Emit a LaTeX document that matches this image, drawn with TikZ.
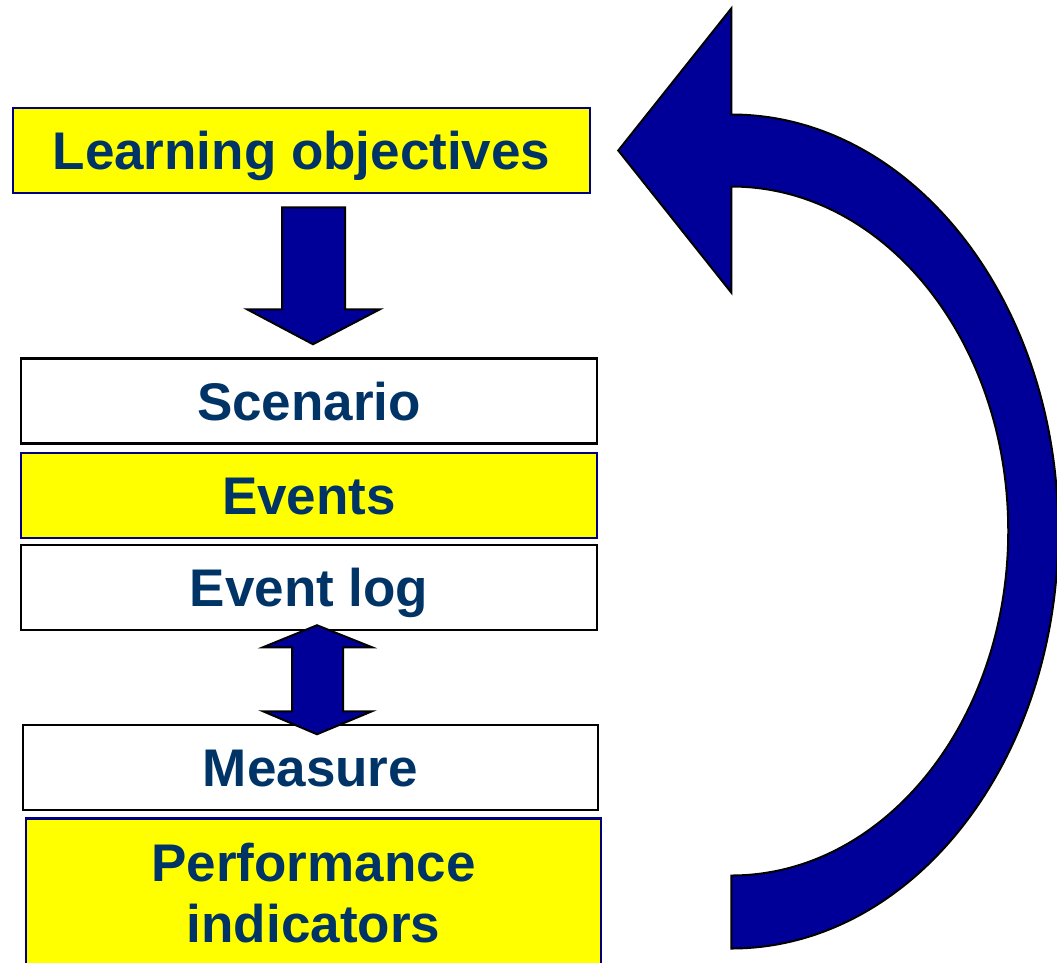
\documentclass[tikz,border=0pt]{standalone}
\usepackage{fontspec}
\setmainfont{Liberation Sans}
\usepackage{tikz}
\usetikzlibrary{calc}
\definecolor{tblue}{RGB}{0,51,102}
\definecolor{ablue}{RGB}{0,0,153}
\definecolor{nblue}{RGB}{0,0,128}
\definecolor{byellow}{RGB}{255,255,0}

\begin{document}
\begin{tikzpicture}[x=1pt,y=-1pt,
        font=\bfseries\fontsize{53}{61}\selectfont,
        box/.style={draw,line width=2.5pt,minimum width=576pt,minimum height=85pt,inner sep=0pt,text=tblue},
        wbox/.style={box,draw=black,fill=white},
        ybox/.style={box,draw=nblue,fill=byellow},
        oneline/.style={text height=38pt,text depth=0pt},
        blk/.style={draw=black,fill=ablue,line width=2pt,line join=miter}]
        \path[use as bounding box,clip] (0,0) rectangle (1057,962);
        % boxes
        \node[ybox,oneline,minimum width=577pt](lo) at (301.5,150.5){Learning objectives};
        \foreach \n/\s/\y/\t in {scen/wbox/401/Scenario,evt/ybox/495.5/Events,elog/wbox/587.5/Event log}
          {\node[\s,oneline](\n) at (309,\y){\t};}
        \node[wbox,oneline,minimum width=575pt](meas) at (310.5,767.5){Measure};
        \node[ybox,anchor=north,minimum width=575pt,minimum height=150pt,align=center](perf)
              at (313.5,817){Performance\\indicators};
        % block arrows
        \draw[blk] ($(scen.north)+(4,-13)$) -- ++(-66,-35) -- ++(35,0) -- ++(0,-102)
              -- ++(63,0) -- ++(0,102) -- ++(35,0) -- cycle;
        \draw[blk] ($(elog.south)+(8,-6)$) -- ++(-54,22) -- ++(29,0) -- ++(0,64) -- ++(-29,0)
              -- ++(54,23) -- ++(55,-23) -- ++(-29,0) -- ++(0,-64) -- ++(29,0) -- cycle;
        % feedback loop back to the objectives
        \draw[blk] ($(lo.east)+(27,0)$) -- ++(113,-142) -- ++(0,106)
              arc[start angle=-90,end angle=90,x radius=327,y radius=417]
              -- ++(0,-73)
              arc[start angle=90,end angle=-90,x radius=277,y radius=344.5]
              -- ++(0,106) -- cycle;
      \end{tikzpicture}
\end{document}
